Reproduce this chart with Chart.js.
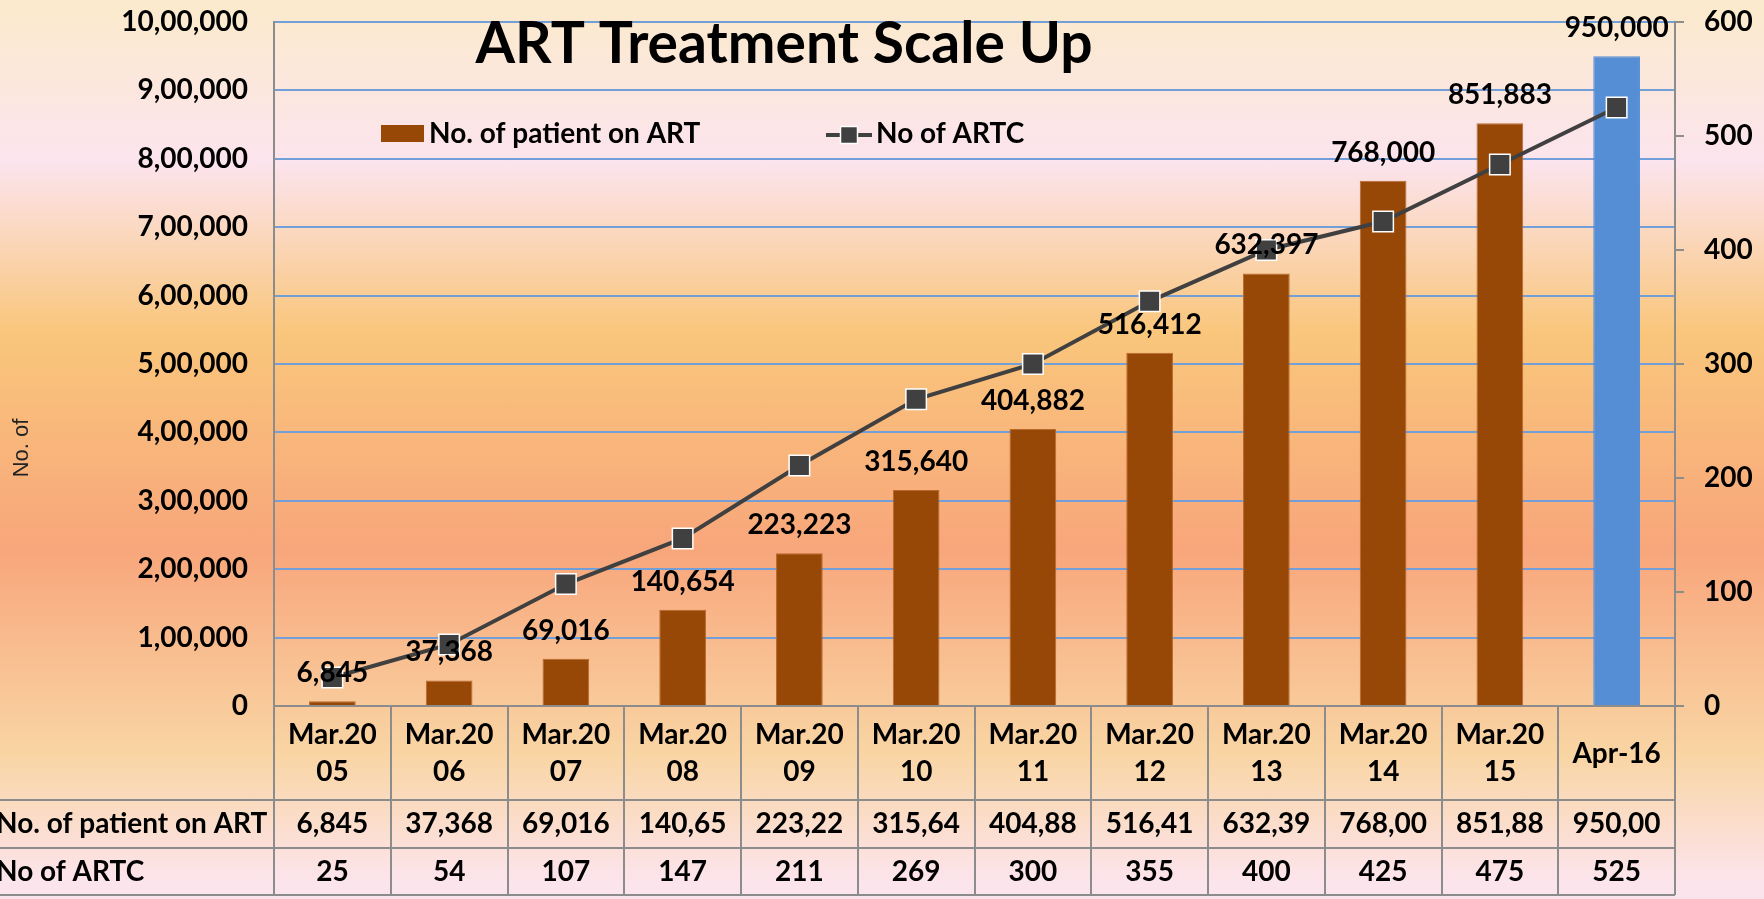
<!DOCTYPE html>
<html>
<head>
<meta charset="utf-8">
<title>ART Treatment Scale Up</title>
<script src="https://cdn.jsdelivr.net/npm/chart.js@4.4.1/dist/chart.umd.min.js"></script>
<style>
  body { margin: 0; }
  #wrap {
    width: 1764px;
    height: 899px;
    background: linear-gradient(to bottom, #fbeacb 0%, #fce4ee 18%, #f9c67b 37%, #f8a67b 61%, #f9d5a4 84%, #fce4ec 98%);
  }
</style>
</head>
<body>
<div id="wrap"><canvas id="art_chart" width="1764" height="899"></canvas></div>
<script>
// chart data
var categories = ["Mar.2005", "Mar.2006", "Mar.2007", "Mar.2008", "Mar.2009", "Mar.2010",
                  "Mar.2011", "Mar.2012", "Mar.2013", "Mar.2014", "Mar.2015", "Apr-16"];
var patientsOnArt = [6845, 37368, 69016, 140654, 223223, 315640, 404882, 516412, 632397, 768000, 851883, 950000];
var artCentres = [25, 54, 107, 147, 211, 269, 300, 355, 400, 425, 475, 525];

var chartTitle = "ART Treatment Scale Up";
var leftAxisTitle = "No. of";
var leftAxisMax = 1000000;
var leftAxisStep = 100000;
var rightAxisMax = 600;
var rightAxisStep = 100;

var brown = "#974706";
var blue = "#558ed5";
var lineGray = "#404040";
var axisGray = "#8c8c8c";

// last bar is highlighted in blue
var barColors = patientsOnArt.map(function (v, i) { return i === patientsOnArt.length - 1 ? blue : brown; });
var barEdges = patientsOnArt.map(function (v, i) { return i === patientsOnArt.length - 1 ? blue : "#b8692e"; });

// 10,00,000 style for the left axis
function formatIndian(n) {
  var s = String(n);
  if (s.length <= 3) return s;
  var rest = s.slice(0, -3).replace(/\B(?=(\d{2})+(?!\d))/g, ",");
  return rest + "," + s.slice(-3);
}

function formatUS(n) {
  return String(n).replace(/\B(?=(\d{3})+(?!\d))/g, ",");
}

// cut text that does not fit in a table cell
function fitText(ctx, s, maxW) {
  while (s.length > 1 && ctx.measureText(s).width > maxW) {
    s = s.slice(0, -1);
  }
  return s;
}

var boldFont = "bold 28px Lato";

// value labels above the bars
var barLabels = {
  id: "barLabels",
  afterDatasetsDraw: function (chart) {
    var ctx = chart.ctx;
    var meta = chart.getDatasetMeta(1);
    ctx.save();
    ctx.font = boldFont;
    ctx.fillStyle = "#000";
    ctx.textAlign = "center";
    ctx.textBaseline = "middle";
    meta.data.forEach(function (bar, i) {
      ctx.fillText(formatUS(patientsOnArt[i]), bar.x, bar.y - 28);
    });
    ctx.restore();
  }
};

// data table under the plot
var dataTable = {
  id: "dataTable",
  afterDraw: function (chart) {
    var ctx = chart.ctx;
    var area = chart.chartArea;
    var xScale = chart.scales.x;
    var colW = (area.right - area.left) / categories.length;
    var row1 = area.bottom + 94;
    var row2 = row1 + 48;
    var row3 = row2 + 47;

    ctx.save();
    ctx.strokeStyle = axisGray;
    ctx.lineWidth = 2;
    ctx.beginPath();
    for (var k = 0; k <= categories.length; k++) {
      var xx = Math.round(area.left + k * colW);
      ctx.moveTo(xx, area.bottom);
      ctx.lineTo(xx, row3);
    }
    [row1, row2, row3].forEach(function (y) {
      ctx.moveTo(0, y);
      ctx.lineTo(area.right, y);
    });
    ctx.stroke();

    ctx.font = boldFont;
    ctx.fillStyle = "#000";
    ctx.textBaseline = "middle";
    ctx.textAlign = "left";
    ctx.fillText(chart.data.datasets[1].label, -4, (row1 + row2) / 2);
    ctx.fillText(chart.data.datasets[0].label, -4, (row2 + row3) / 2);

    ctx.textAlign = "center";
    for (var i = 0; i < categories.length; i++) {
      var cx = xScale.getPixelForValue(i);
      ctx.fillText(fitText(ctx, formatUS(patientsOnArt[i]), colW - 16), cx, (row1 + row2) / 2);
      ctx.fillText(fitText(ctx, formatUS(artCentres[i]), colW - 16), cx, (row2 + row3) / 2);
    }
    ctx.restore();
  }
};

// title, legend and axis title sit inside / beside the plot
var overlayText = {
  id: "overlayText",
  afterDraw: function (chart) {
    var ctx = chart.ctx;
    var sets = chart.data.datasets;
    ctx.save();
    ctx.fillStyle = "#000";
    ctx.font = "bold 57px Lato";
    ctx.textAlign = "center";
    ctx.textBaseline = "alphabetic";
    ctx.fillText(chartTitle, 784, 63);

    // legend
    ctx.font = boldFont;
    ctx.textAlign = "left";
    ctx.textBaseline = "middle";
    ctx.fillStyle = brown;
    ctx.fillRect(381, 125, 43, 17);
    ctx.fillStyle = "#000";
    ctx.fillText(sets[1].label, 429, 134);

    ctx.strokeStyle = lineGray;
    ctx.lineWidth = 4;
    ctx.beginPath();
    ctx.moveTo(826, 135);
    ctx.lineTo(872, 135);
    ctx.stroke();
    ctx.fillStyle = lineGray;
    ctx.fillRect(840.5, 126.5, 17, 17);
    ctx.strokeStyle = "#fff";
    ctx.lineWidth = 1.5;
    ctx.strokeRect(840.5, 126.5, 17, 17);
    ctx.fillStyle = "#000";
    ctx.fillText(sets[0].label, 876, 134);

    // rotated axis title
    ctx.translate(22, 448);
    ctx.rotate(-Math.PI / 2);
    ctx.font = "22px 'Liberation Sans'";
    ctx.textAlign = "center";
    ctx.fillStyle = "#222";
    ctx.fillText(leftAxisTitle, 0, 0);
    ctx.restore();
  }
};

var artChart = new Chart("art_chart", {
  type: "bar",
  data: {
    labels: categories,
    datasets: [{
      type: "line",
      label: "No of ARTC",
      data: artCentres,
      yAxisID: "y2",
      order: 0,
      borderColor: lineGray,
      borderWidth: 4,
      tension: 0,
      pointStyle: "rect",
      pointRadius: 14.5,
      pointBackgroundColor: lineGray,
      pointBorderColor: "#fff",
      pointBorderWidth: 1.5
    }, {
      type: "bar",
      label: "No. of patient on ART",
      data: patientsOnArt,
      yAxisID: "y",
      order: 1,
      backgroundColor: barColors,
      borderColor: barEdges,
      borderWidth: 1,
      categoryPercentage: 1,
      barPercentage: 0.4
    }]
  },
  options: {
    responsive: false,
    animation: false,
    layout: { padding: { top: 22, bottom: 4, left: 0, right: 0 } },
    plugins: {
      legend: { display: false },
      tooltip: { enabled: false }
    },
    scales: {
      x: {
        grid: { display: false },
        border: { display: true, color: axisGray, width: 2 },
        ticks: {
          font: { family: "Lato", size: 28, weight: "bold", lineHeight: 1.33 },
          color: "#000",
          padding: 21,
          crossAlign: "center",
          maxRotation: 0,
          autoSkip: false,
          callback: function (value, index) {
            var s = categories[index];
            return s.length > 6 ? [s.slice(0, 6), s.slice(6)] : s;
          }
        },
        afterFit: function (scale) { scale.height = 189; }
      },
      y: {
        position: "left",
        min: 0,
        max: leftAxisMax,
        grid: {
          drawTicks: false,
          lineWidth: 2,
          color: function (c) { return c.tick && c.tick.value === 0 ? "rgba(0,0,0,0)" : "#739fd9"; }
        },
        border: { display: true, color: axisGray, width: 2 },
        ticks: {
          stepSize: leftAxisStep,
          padding: 26,
          color: "#000",
          font: { family: "Lato", size: 28, weight: "bold" },
          callback: function (v) { return formatIndian(v); }
        },
        afterFit: function (scale) {
          scale.width = 274;
          scale.paddingTop = 0;
          scale.paddingBottom = 0;
        }
      },
      y2: {
        position: "right",
        min: 0,
        max: rightAxisMax,
        grid: { drawOnChartArea: false, drawTicks: true, tickLength: 9, color: axisGray, lineWidth: 2 },
        border: { display: true, color: axisGray, width: 2 },
        ticks: {
          stepSize: rightAxisStep,
          padding: 20,
          color: "#000",
          font: { family: "Lato", size: 28, weight: "bold" }
        },
        afterFit: function (scale) {
          scale.width = 89;
          scale.paddingTop = 0;
          scale.paddingBottom = 0;
        }
      }
    }
  },
  plugins: [barLabels, dataTable, overlayText]
});
</script>
</body>
</html>
